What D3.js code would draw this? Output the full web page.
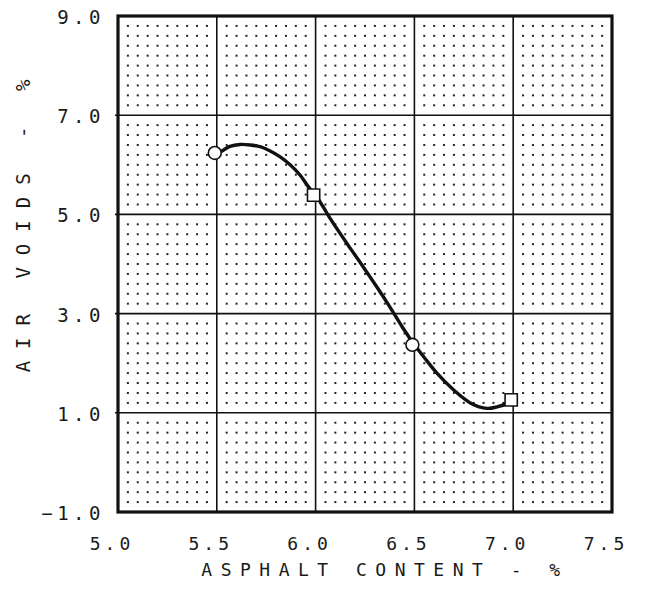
<!DOCTYPE html>
<html>
<head>
<meta charset="utf-8">
<script src="https://cdn.jsdelivr.net/npm/d3@7"></script>
<style>
  body { margin: 0; background: #fff; }
  text { font-family: 'DejaVu Sans Mono', monospace; fill: #1a1a1a; }
</style>
</head>
<body>
<div id="canvas"></div>
<script>
// measured points
const asphalt = [5.5, 6.0, 6.5, 7.0]
const airVoids = [6.24, 5.39, 2.37, 1.26]
const markerShape = ['circle', 'square', 'circle', 'square']

// fitted curve
const curveX = [5.52, 5.567, 5.618, 5.669, 5.719, 5.77, 5.821, 5.871, 5.922, 5.963, 6.0,
  6.04, 6.08, 6.175, 6.243, 6.311, 6.378, 6.437, 6.479, 6.5, 6.547, 6.614, 6.699, 6.783,
  6.868, 6.918, 6.969, 6.99]
const curveY = [6.26, 6.37, 6.41, 6.40, 6.365, 6.28, 6.16, 6.0, 5.79, 5.56, 5.39,
  5.14, 4.88, 4.32, 3.93, 3.53, 3.12, 2.74, 2.49, 2.37, 2.13, 1.80, 1.46, 1.20,
  1.09, 1.12, 1.19, 1.25]

const xTicks = [5.0, 5.5, 6.0, 6.5, 7.0, 7.5]
const yTicks = [-1.0, 1.0, 3.0, 5.0, 7.0, 9.0]

const xTitle = 'ASPHALT CONTENT - %'
const yTitle = 'AIR VOIDS - %'

var margin = {top: 16, right: 33, bottom: 84, left: 118},
  width = 645 - margin.left - margin.right,
  height = 596 - margin.top - margin.bottom

var svg = d3.select('#canvas')
  .append('svg')
  .attr('width', 645)
  .attr('height', 596)

var g = svg.append('g')
  .attr('transform', 'translate(' + margin.left + ',' + margin.top + ')')

const x = d3.scaleLinear().domain([5.0, 7.5]).range([0, width])
const y = d3.scaleLinear().domain([-1.0, 9.0]).range([height, 0])

// dotted minor grid
const minorX = d3.range(5.0, 7.5001, 0.05).filter(v => Math.abs(v * 2 - Math.round(v * 2)) > 1e-6)
const minorY = d3.range(-1.0, 9.0001, 0.2).filter(v => Math.abs((v + 1) / 2 - Math.round((v + 1) / 2)) > 1e-6)
const dots = []
minorX.forEach(a => minorY.forEach(b => dots.push([a, b])))

g.selectAll('.dot')
  .data(dots)
  .enter()
  .append('rect')
  .attr('x', d => x(d[0]) - 1)
  .attr('y', d => y(d[1]) - 1)
  .attr('width', 2)
  .attr('height', 2)
  .attr('fill', '#222')

// major grid
g.selectAll('.vline')
  .data(xTicks.slice(1, -1))
  .enter()
  .append('line')
  .attr('x1', d => x(d)).attr('x2', d => x(d))
  .attr('y1', 0).attr('y2', height)
  .attr('stroke', '#111')
  .attr('stroke-width', 1.6)

g.selectAll('.hline')
  .data(yTicks.slice(1, -1))
  .enter()
  .append('line')
  .attr('x1', -3).attr('x2', width)
  .attr('y1', d => y(d)).attr('y2', d => y(d))
  .attr('stroke', '#111')
  .attr('stroke-width', 1.6)

g.append('rect')
  .attr('width', width)
  .attr('height', height)
  .attr('fill', 'none')
  .attr('stroke', '#111')
  .attr('stroke-width', 3.2)

// tick labels
g.selectAll('.xlab')
  .data(xTicks)
  .enter()
  .append('text')
  .attr('x', d => x(d) - 6)
  .attr('y', height + 38)
  .attr('text-anchor', 'middle')
  .attr('font-size', '18px')
  .attr('letter-spacing', '4px')
  .text(d => d3.format('.1f')(d))

g.selectAll('.ylab')
  .data(yTicks)
  .enter()
  .append('text')
  .attr('x', -13)
  .attr('y', d => y(d) + 8)
  .attr('text-anchor', 'end')
  .attr('font-size', '19px')
  .attr('letter-spacing', '4.5px')
  .text(d => d3.format('.1f')(d))

// axis titles
g.append('text')
  .attr('x', width / 2 + 20)
  .attr('y', height + 64)
  .attr('text-anchor', 'middle')
  .attr('font-size', '18px')
  .attr('letter-spacing', '8.5px')
  .text(xTitle)

g.append('text')
  .attr('transform', 'translate(' + (-88) + ',' + (height / 2 - 44) + ') rotate(-90)')
  .attr('text-anchor', 'middle')
  .attr('font-size', '19px')
  .attr('letter-spacing', '12px')
  .text(yTitle)

// curve
const line = d3.line()
  .x((d, i) => x(curveX[i]))
  .y((d, i) => y(curveY[i]))
  .curve(d3.curveCatmullRom)

g.append('path')
  .datum(curveX)
  .attr('d', line)
  .attr('fill', 'none')
  .attr('stroke', '#111')
  .attr('stroke-width', 3.4)
  .attr('stroke-linejoin', 'round')

// markers
const pts = asphalt.map((a, i) => ({x: a, y: airVoids[i], shape: markerShape[i]}))
g.selectAll('.marker')
  .data(pts)
  .enter()
  .append('path')
  .attr('transform', d => 'translate(' + (x(d.x) - 2) + ',' + y(d.y) + ')')
  .attr('d', d => d3.symbol()
    .type(d.shape === 'circle' ? d3.symbolCircle : d3.symbolSquare)
    .size(d.shape === 'circle' ? 130 : 150)())
  .attr('fill', '#fff')
  .attr('stroke', '#111')
  .attr('stroke-width', 1.6)
</script>
</body>
</html>
